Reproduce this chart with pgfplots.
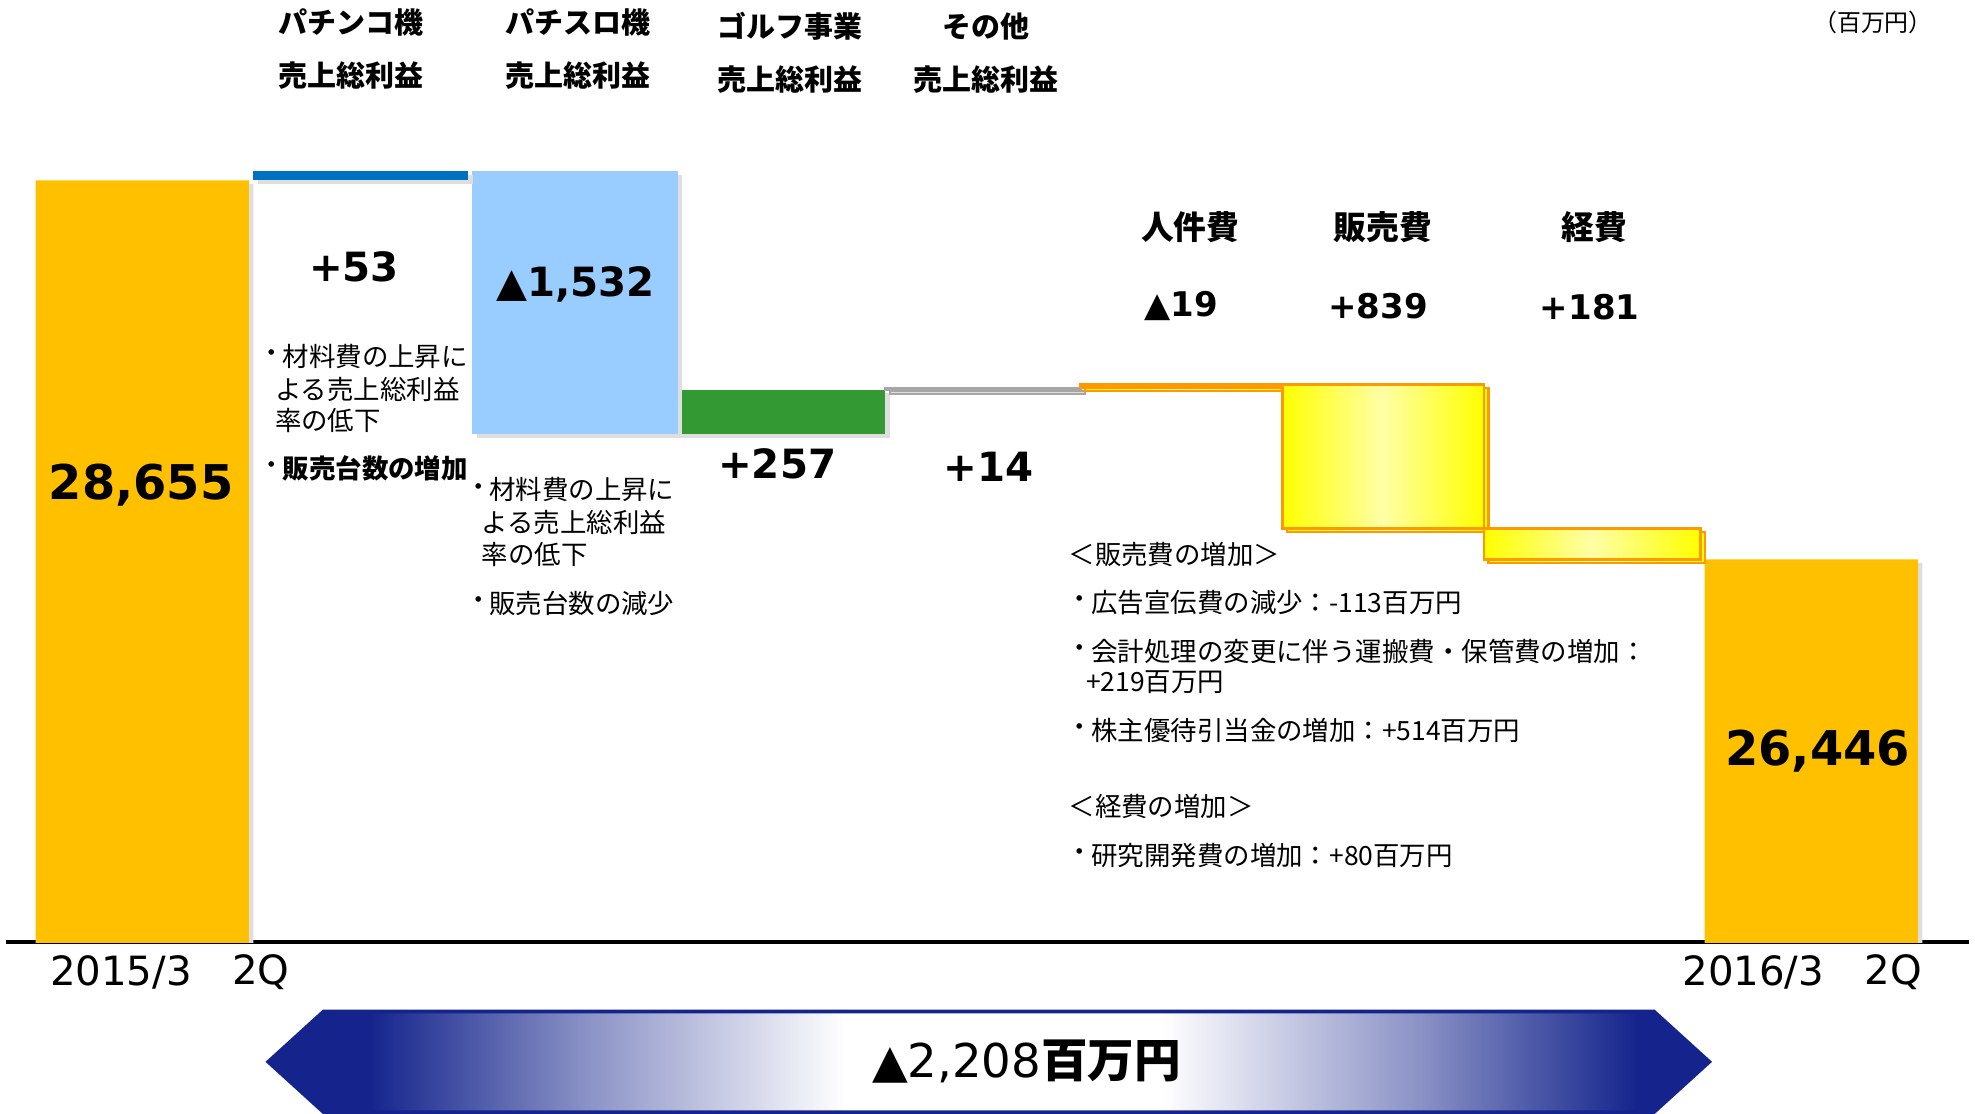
\documentclass[border=0pt]{standalone}
\usepackage{pgfplots}
\pgfplotsset{compat=1.18}
\usepackage{fontspec}
\setmainfont{DejaVu Sans}
\newfontfamily\jp{Noto Sans CJK JP}
\definecolor{gold}{HTML}{FFC000}
\definecolor{dblue}{HTML}{0070C0}
\definecolor{lblue}{HTML}{99CCFF}
\definecolor{ggreen}{HTML}{339933}
\definecolor{edgeorange}{HTML}{FF9900}
\definecolor{yel}{HTML}{FFFF00}
\definecolor{navy}{RGB}{20,36,140}
\definecolor{lgray}{HTML}{A6A6A6}
\pgfdeclarehorizontalshading{arrowshade}{100bp}{color(0bp)=(navy); color(25bp)=(navy); color(28.5bp)=(navy); color(36bp)=(navy!50!white); color(45bp)=(white); color(56bp)=(white); color(65bp)=(navy!50!white); color(72.5bp)=(navy); color(75bp)=(navy); color(100bp)=(navy)}
\pgfplotsset{
  wf/.style={at={(2.5pt,68pt)}, anchor=south west, scale only axis,
    width=779pt, height=374pt, xmin=-0.65, xmax=8.735, ymin=24215, ymax=29706,
    ybar stacked, bar width=1, xtick=\empty, ytick=\empty},
  shad/.style={preaction={fill=black!13, transform canvas={shift={(1.8pt,-1.4pt)}}}},
  yelbar/.style={shad, draw=edgeorange, line width=1pt, left color=yel, right color=yel, middle color=yel!35},
}
\newcommand\hd[1]{{\jp\bfseries\fontsize{11.5}{13}\selectfont #1}}
\newcommand\nt[1]{{\jp\fontsize{10.5}{12}\selectfont #1}}
\begin{document}
\begin{tikzpicture}
\useasboundingbox (0,0) rectangle (784pt,442pt);
% main axis: start, pachinko, pachislot, golf, end
\begin{axis}[wf, axis x line=bottom, axis y line=none, axis line style={-, line width=1.3pt, black}]
\addplot[draw=none, fill=none] coordinates {(0,0) (1.045,28655) (2.069,27176) (3.057,27176) (7.982,0)};
\addplot[shad, draw=none, fill=gold, bar width=1.02] coordinates {(0,28655) (1.045,0) (2.069,0) (3.057,0) (7.982,26446)};
\addplot[shad, draw=none, fill=dblue, bar width=1.03] coordinates {(0,0) (1.045,53) (2.069,0) (3.057,0) (7.982,0)};
\addplot[shad, draw=none, fill=lblue, bar width=0.982] coordinates {(0,0) (1.045,0) (2.069,1532) (3.057,0) (7.982,0)};
\addplot[shad, draw=none, fill=ggreen, bar width=0.994] coordinates {(0,0) (1.045,0) (2.069,0) (3.057,257) (7.982,0)};
\end{axis}
% other
\begin{axis}[wf, hide axis]
\addplot[draw=none, fill=none] coordinates {(4.021,27433)};
\addplot[shad, draw=lgray, fill=lgray, line width=0.8pt, bar width=0.934] coordinates {(4.021,14)};
\end{axis}
% personnel
\begin{axis}[wf, hide axis]
\addplot[draw=none, fill=none] coordinates {(4.970,27447)};
\addplot[yelbar, bar width=0.964] coordinates {(4.970,19)};
\end{axis}
% sales
\begin{axis}[wf, hide axis]
\addplot[draw=none, fill=none] coordinates {(5.934,26627)};
\addplot[yelbar, bar width=0.964] coordinates {(5.934,839)};
\end{axis}
% expenses
\begin{axis}[wf, hide axis]
\addplot[draw=none, fill=none] coordinates {(6.934,26446)};
\addplot[yelbar, bar width=1.036] coordinates {(6.934,181)};
\end{axis}

\begin{scope}[shift={(0pt,442pt)}, x=0.5pt, y=-0.5pt]
% headers
\node at (279,18) {\hd{パチンコ機}};
\node at (279,60) {\hd{売上総利益}};
\node at (459,18) {\hd{パチスロ機}};
\node at (459,60) {\hd{売上総利益}};
\node at (627,21) {\hd{ゴルフ事業}};
\node at (627,63) {\hd{売上総利益}};
\node at (783,21) {\hd{その他}};
\node at (783,63) {\hd{売上総利益}};
\node at (1487,18) {{\jp\fontsize{9.5}{11}\selectfont （百万円）}};
\node at (945,180) {{\jp\bfseries\fontsize{13}{15}\selectfont 人件費}};
\node at (1098,180) {{\jp\bfseries\fontsize{13}{15}\selectfont 販売費}};
\node at (1266,180) {{\jp\bfseries\fontsize{13}{15}\selectfont 経費}};
% numbers
\node at (112,385) {\bfseries\fontsize{19}{21}\selectfont 28,655};
\node at (1443,596) {\bfseries\fontsize{19}{21}\selectfont 26,446};
\node at (281,212) {\bfseries\fontsize{16}{18}\selectfont +53};
\node at (457,226) {\bfseries\fontsize{16}{18}\selectfont ▲1,532};
\node at (617,368) {\bfseries\fontsize{16}{18}\selectfont +257};
\node at (785,371) {\bfseries\fontsize{16}{18}\selectfont +14};
\node at (938,243) {\bfseries\fontsize{13.5}{15}\selectfont ▲19};
\node at (1094,243) {\bfseries\fontsize{13.5}{15}\selectfont +839};
\node at (1262,244) {\bfseries\fontsize{13.5}{15}\selectfont +181};
% notes column 1
\node at (216,283) {\nt{・}};
\node[anchor=west, inner sep=0pt] at (224,283) {\nt{材料費の上昇に}};
\node[anchor=west, inner sep=0pt] at (218,309) {\nt{よる売上総利益}};
\node[anchor=west, inner sep=0pt] at (218,334) {\nt{率の低下}};
\node at (216,372) {\nt{・}};
\node[anchor=west, inner sep=0pt] at (224,372) {\nt{\bfseries 販売台数の増加}};
% notes column 2
\node at (380,389) {\nt{・}};
\node[anchor=west, inner sep=0pt] at (388,389) {\nt{材料費の上昇に}};
\node[anchor=west, inner sep=0pt] at (382,415) {\nt{よる売上総利益}};
\node[anchor=west, inner sep=0pt] at (382,440) {\nt{率の低下}};
\node at (380,479) {\nt{・}};
\node[anchor=west, inner sep=0pt] at (388,479) {\nt{販売台数の減少}};
% right notes
\node[anchor=west, inner sep=0pt] at (848,440) {\nt{＜販売費の増加＞}};
\node at (857,478) {\nt{・}};
\node[anchor=west, inner sep=0pt] at (866,478) {\nt{広告宣伝費の減少：-113百万円}};
\node at (857,517) {\nt{・}};
\node[anchor=west, inner sep=0pt] at (866,517) {\nt{会計処理の変更に伴う運搬費・保管費の増加：}};
\node[anchor=west, inner sep=0pt] at (862,542) {\nt{+219百万円}};
\node at (857,580) {\nt{・}};
\node[anchor=west, inner sep=0pt] at (866,580) {\nt{株主優待引当金の増加：+514百万円}};
\node[anchor=west, inner sep=0pt] at (848,640) {\nt{＜経費の増加＞}};
\node at (857,679) {\nt{・}};
\node[anchor=west, inner sep=0pt] at (866,679) {\nt{研究開発費の増加：+80百万円}};
% bottom labels
\node at (96,772) {\fontsize{16}{18}\selectfont 2015/3};
\node at (207,772) {\fontsize{16}{18}\selectfont 2Q};
\node at (1392,772) {\fontsize{16}{18}\selectfont 2016/3};
\node at (1503,772) {\fontsize{16}{18}\selectfont 2Q};
% arrow
\path[shade, shading=arrowshade, draw=navy, line width=1.5pt] (213,843) -- (257,803) -- (1313,803) -- (1357,843) -- (1313,883) -- (257,883) -- cycle;
\node at (815,843) {\fontsize{18.5}{20}\selectfont ▲2,208{\jp\bfseries 百万円}};
\end{scope}
\end{tikzpicture}
\end{document}
